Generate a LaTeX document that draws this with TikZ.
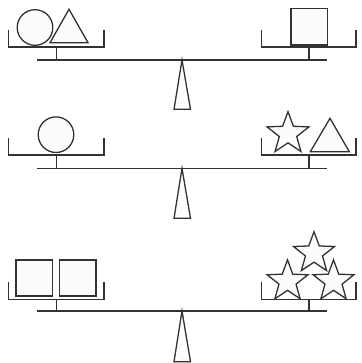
\documentclass[tikz,border=0pt]{standalone}
\usetikzlibrary{shapes.geometric}
\begin{document}
\begin{tikzpicture}[x=1pt,y=1pt]
            % Define the colors
            \definecolor{linecolor}{RGB}{50, 50, 50}
            \definecolor{shapecolor}{RGB}{252, 252, 252}
            \tikzset{part/.style={draw=linecolor, line width=1.3pt},
                     item/.style={draw=linecolor, fill=shapecolor, line width=1.3pt},
                     staritem/.style={item, star, star points=5, star point ratio=2.4, inner sep=0pt}}
            \useasboundingbox (0,0) rectangle (361,363);

            % Draw the first balance
            \draw[part] (37,303) -- (326.5,303);
            \draw[part] (8.5,333) -- (8.5,316) -- (104,316) -- (104,333);
            \draw[part] (56.3,316) -- (56.3,303);
            \draw[part] (261.5,333) -- (261.5,316) -- (356,316) -- (356,333);
            \draw[part] (309,316) -- (309,303);
            \filldraw[item] (182,303) -- (174,253.7) -- (190.5,253.7) -- cycle;
            % circle and triangle against the square
            \filldraw[item] (35,335.5) circle (17.8);
            \filldraw[item] (69,353.7) -- (50,320.3) -- (88,320.3) -- cycle;
            \filldraw[item] (291,318) rectangle (327.3,354.7);

            % Draw the second balance
            \draw[part] (37,194.7) -- (326.5,194.7);
            \draw[part] (8.5,224.7) -- (8.5,208) -- (104,208) -- (104,224.7);
            \draw[part] (56.3,208) -- (56.3,194.7);
            \draw[part] (261.5,224.7) -- (261.5,208) -- (356,208) -- (356,224.7);
            \draw[part] (309,208) -- (309,194.7);
            \filldraw[item] (182,194.7) -- (174,144.7) -- (190.5,144.7) -- cycle;
            % circle against star and triangle
            \filldraw[item] (56,228.3) circle (17.8);
            \node[staritem, minimum size=44pt] (star21) at (288,229.3) {};
            \filldraw[item] (330,244.7) -- (310.3,211.3) -- (349.3,211.3) -- cycle;

            % Draw the third balance
            \draw[part] (37,52) -- (326.5,52);
            \draw[part] (8.5,81.3) -- (8.5,63.5) -- (104,63.5) -- (104,81.3);
            \draw[part] (56.3,63.5) -- (56.3,52);
            \draw[part] (261.5,81.3) -- (261.5,63.5) -- (356,63.5) -- (356,81.3);
            \draw[part] (309,63.5) -- (309,52);
            \filldraw[item] (182,52) -- (174,1.3) -- (190.5,1.3) -- cycle;
            % two squares against three stars
            \filldraw[item] (16,67) rectangle (52.7,103);
            \filldraw[item] (59.3,67) rectangle (96,103);
            \node[staritem, minimum size=43pt] (star31) at (287.5,81.6) {};
            \node[staritem, minimum size=43pt] (star32) at (333.5,81.6) {};
            \node[staritem, minimum size=43pt] (star33) at (314,109.8) {};

\end{tikzpicture}
\end{document}
